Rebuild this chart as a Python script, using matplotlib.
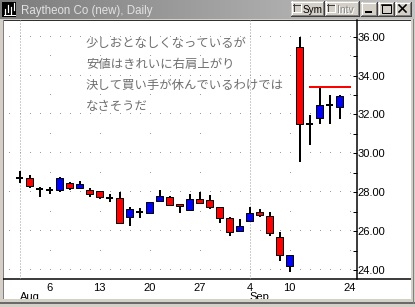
import matplotlib
matplotlib.use('Agg')
import matplotlib.pyplot as plt
import numpy as np
from matplotlib.patches import Rectangle
from matplotlib.colors import LinearSegmentedColormap
import matplotlib.transforms as mtransforms

plt.rcParams['font.family'] = ['Liberation Sans', 'DejaVu Sans']

# ---------------- data ----------------
title = 'Raytheon Co (new), Daily'
# trading-day index 0 = Aug 1
opens  = [28.72, 28.72, 28.19, 28.10, 28.10, 28.46, 28.20, 28.11, 28.06, 27.72,
          27.69, 26.71, 26.97, 26.95, 27.56, 27.74, 27.38, 27.10, 27.65, 27.60,
          27.22, 26.66, 26.02, 26.53, 26.97, 26.76, 25.68, 24.22, 35.45, 31.51,
          31.83, 32.47, 32.37]
highs  = [29.11, 28.89, 28.27, 28.25, 28.80, 28.54, 28.58, 28.22, 28.06, 27.89,
          28.00, 27.26, 27.17, 27.48, 28.11, 27.81, 27.38, 27.91, 28.00, 27.87,
          27.22, 26.71, 26.62, 27.22, 27.12, 26.97, 25.94, 24.79, 36.00, 31.97,
          33.43, 33.00, 33.00]
lows   = [28.46, 28.20, 27.77, 27.92, 28.03, 28.10, 28.20, 27.77, 27.64, 27.48,
          26.38, 26.28, 26.69, 26.89, 27.56, 27.36, 26.95, 27.05, 27.41, 27.12,
          26.43, 25.75, 26.02, 26.47, 26.74, 25.76, 24.48, 23.91, 29.57, 30.43,
          31.49, 31.49, 31.75]
closes = [28.72, 28.34, 28.19, 28.10, 28.72, 28.20, 28.41, 27.89, 27.74, 27.72,
          26.43, 27.12, 26.97, 27.48, 27.79, 27.36, 27.28, 27.64, 27.46, 27.22,
          26.66, 25.97, 26.25, 26.92, 26.84, 25.92, 24.79, 24.79, 31.49, 31.51,
          32.47, 32.47, 32.95]
day_tick_pos = [3, 8, 13, 18, 23, 27, 33]
day_tick_labels = ['6', '13', '20', '27', '4', '10', '24']
month_pos = [0, 23]
month_labels = ['Aug', 'Sep']
price_major = [24, 26, 28, 30, 32, 34, 36]
price_minor = [25, 27, 29, 31, 33, 35]
resistance_level = 33.43
resistance_span = [28.95, 33.12]
notes = ['少しおとなしくなっているが',
         '安値はきれいに右肩上がり',
         '決して買い手が休んでいるわけでは',
         'なさそうだ']

# ---------------- figure / window chrome ----------------
W, H, DPI = 415, 307, 100
PX = 72.0 / DPI
fig = plt.figure(figsize=(W / DPI, H / DPI), dpi=DPI)
fig.patch.set_facecolor('#d4d0c8')

bg = fig.add_axes([0, 0, 1, 1], zorder=0)
bg.axis('off')

# title bar gradient
grad = np.linspace(0, 1, 256).reshape(1, -1)
cm = LinearSegmentedColormap.from_list('tb', ['#7c7c7c', '#c4c4c4'])
bg.imshow(grad, extent=(0, W, 19, 0), aspect='auto', cmap=cm, zorder=1,
          interpolation='bilinear')
bg.set_xlim(0, W)
bg.set_ylim(H, 0)

# white panel
bg.add_patch(Rectangle((3, 20), 407.5, 279, fc='white', ec='none', zorder=2))
bg.plot([2.5, 411], [19.5, 19.5], color='#303030', lw=PX, zorder=3)
bg.plot([2.5, 2.5], [19.5, 299], color='#808080', lw=PX, zorder=3)
# bottom & right frame
bg.add_patch(Rectangle((0, 299), W, 8, fc='#d4d0c8', ec='none', zorder=6))
bg.add_patch(Rectangle((0, 302), W, 2, fc='#6a6a6a', ec='none', zorder=7))
bg.add_patch(Rectangle((410.5, 19), 4.5, 288, fc='#d4d0c8', ec='none', zorder=6))
bg.add_patch(Rectangle((412.5, 19), 1.2, 285, fc='#808080', ec='none', zorder=7))

# bottom axis line across the panel
bg.plot([3, 410.5], [279.3, 279.3], color='black', lw=1.5 * PX, zorder=4,
        solid_capstyle='butt')

# icon
bg.add_patch(Rectangle((2, 1.5), 14, 15, fc='black', ec='none', zorder=3))
for xs, y0, y1 in [(4.5, 9, 14), (7.5, 5, 12), (10.5, 7, 14), (13.5, 3, 10)]:
    bg.plot([xs, xs], [y0, y1], color='white', lw=1.2 * PX, zorder=4)
bg.plot([4, 15], [14.5, 14.5], color='white', lw=PX, zorder=4)

bg.text(21, 14, title, fontsize=8.3, color='#e2e2e2', ha='left',
        va='baseline', zorder=4)


def button(x0, y0, x1, y1):
    bg.add_patch(Rectangle((x0, y0), x1 - x0, y1 - y0, fc='#d4d0c8', ec='none', zorder=3))
    bg.plot([x0, x1], [y0 + 0.5, y0 + 0.5], color='white', lw=PX, zorder=4)
    bg.plot([x0 + 0.5, x0 + 0.5], [y0, y1], color='white', lw=PX, zorder=4)
    bg.plot([x0, x1], [y1 - 0.5, y1 - 0.5], color='#404040', lw=PX, zorder=4)
    bg.plot([x1 - 0.5, x1 - 0.5], [y0, y1], color='#404040', lw=PX, zorder=4)
    bg.plot([x0 + 1, x1 - 1], [y1 - 1.5, y1 - 1.5], color='#808080', lw=PX, zorder=4)
    bg.plot([x1 - 1.5, x1 - 1.5], [y0 + 1, y1 - 1], color='#808080', lw=PX, zorder=4)


def checkbox(x0, y0):
    bg.add_patch(Rectangle((x0, y0), 8, 8, fc='#d4d0c8', ec='none', zorder=5))
    bg.plot([x0, x0 + 8], [y0 + 0.5, y0 + 0.5], color='#404040', lw=PX, zorder=5)
    bg.plot([x0 + 0.5, x0 + 0.5], [y0, y0 + 8], color='#404040', lw=PX, zorder=5)
    bg.plot([x0, x0 + 8], [y0 + 7.5, y0 + 7.5], color='white', lw=PX, zorder=5)
    bg.plot([x0 + 7.5, x0 + 7.5], [y0, y0 + 8], color='white', lw=PX, zorder=5)


button(291, 1, 324, 16)
checkbox(293, 4)
bg.text(302.5, 13.0, 'Sym', fontsize=7.2, color='black', ha='left', va='baseline', zorder=5)
button(325, 1, 359, 16)
checkbox(327, 4)
bg.text(337.5, 13.5, 'Intv', fontsize=7.5, color='white', ha='left', va='baseline', zorder=5)
bg.text(337, 13.0, 'Intv', fontsize=7.5, color='#8a8a8a', ha='left', va='baseline', zorder=5)

button(361, 2, 377, 16)
bg.plot([365, 372], [12, 12], color='black', lw=2 * PX, zorder=5, solid_capstyle='butt')
button(378, 2, 394, 16)
bg.add_patch(Rectangle((381.5, 4.5), 9, 8, fc='none', ec='black', lw=PX, zorder=5))
bg.plot([381.5, 390.5], [5.2, 5.2], color='black', lw=1.5 * PX, zorder=5)
button(395, 2, 411, 16)
bg.plot([399, 406], [5, 12], color='black', lw=1.6 * PX, zorder=5)
bg.plot([399, 406], [12, 5], color='black', lw=1.6 * PX, zorder=5)

# ---------------- chart axes ----------------
ax_l, ax_r, ax_t, ax_b = 3, 356.5, 20, 279.3
ax = fig.add_axes([ax_l / W, (H - ax_b) / H, (ax_r - ax_l) / W, (ax_b - ax_t) / H], zorder=1)
ax.set_facecolor('none')
ax.set_xlim(-1.65, 33.7)
ax.set_ylim(23.52, 36.86)
for s in ['top', 'left', 'bottom']:
    ax.spines[s].set_visible(False)
ax.spines['right'].set_linewidth(1.5 * PX)
ax.yaxis.tick_right()
ax.set_yticks(price_major)
ax.set_yticklabels([f'{v:.2f}' for v in price_major])
ax.set_yticks(price_minor, minor=True)
ax.tick_params(axis='y', which='both', direction='in', length=3.2, width=PX,
               pad=0.6, labelsize=8, colors='black')
ax.set_xticks(day_tick_pos)
ax.set_xticklabels(day_tick_labels)
ax.tick_params(axis='x', length=0, pad=2.6, labelsize=8, colors='black')

grid_c = '#9c9c9c'
# major price rows: one dot per trading day
row_x = np.arange(-1, 34)
for p in price_major:
    ax.plot(row_x, np.full(row_x.shape, p), ls='none', marker=',', color=grid_c, zorder=1)
# weekly columns: one dot per price unit
col_y = np.arange(24, 37)
for d in day_tick_pos:
    if d in month_pos:
        continue
    ax.plot(np.full(col_y.shape, d), col_y, ls='none', marker=',', color=grid_c, zorder=1)
# month boundaries: dense dotted lines
for d in month_pos:
    ax.axvline(d, ls=(0, (1, 2)), lw=PX, color=grid_c, zorder=1)

# candles
x = np.arange(len(opens))
o = np.array(opens); h = np.array(highs); l = np.array(lows); c = np.array(closes)
ax.vlines(x, l, h, color='black', lw=2 * PX, zorder=3)
up = c > o
dn = c < o
dj = c == o
bw = 0.62
ax.bar(x[up], (c - o)[up], bottom=o[up], width=bw, color='#0000ff',
       edgecolor='black', linewidth=PX, zorder=4)
ax.bar(x[dn], (c - o)[dn], bottom=o[dn], width=bw, color='#ff0000',
       edgecolor='black', linewidth=PX, zorder=4)
ax.hlines(o[dj], x[dj] - 0.36, x[dj] + 0.36, color='black', lw=2 * PX, zorder=4)

# resistance line
ax.hlines(resistance_level, resistance_span[0], resistance_span[1], color='#ff0000',
          lw=2 * PX, zorder=5)

# month labels below day labels
blend = mtransforms.blended_transform_factory(ax.transData, bg.transData)
for d, s in zip(month_pos, month_labels):
    bg.text(d + 0.03, 299.6, s, transform=blend, fontsize=8, color='black',
            ha='left', va='baseline', zorder=5)

# annotation text
for i, s in enumerate(notes):
    ax.text(86, 46.8 + 21 * i, s, transform=bg.transData, fontsize=8.9,
            color='#6e6e6e', ha='left', va='baseline',
            family=['Noto Sans CJK JP', 'DejaVu Sans'], zorder=6)

fig.savefig('out.png', dpi=DPI, facecolor=fig.get_facecolor())
